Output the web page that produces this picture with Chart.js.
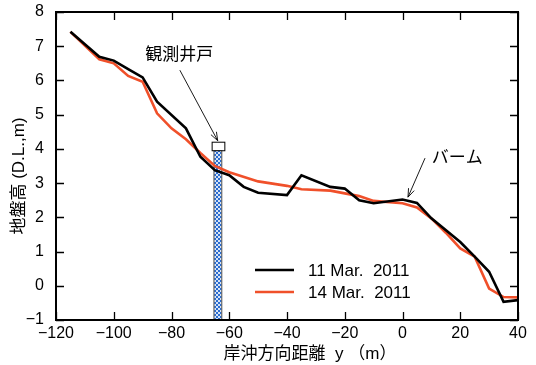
<!DOCTYPE html>
<html>
<head>
<meta charset="utf-8">
<script src="https://cdn.jsdelivr.net/npm/chart.js@4.4.0/dist/chart.umd.min.js"></script>
<style>
  body { margin: 0; background: #fff; }
  #wrap { width: 536px; height: 365px; }
</style>
</head>
<body>
<div id="wrap"><canvas id="myChart" width="536" height="365"></canvas></div>
<script>
// 11 Mar. 2011 profile
var marX11 = [-115, -105, -100, -95, -90, -85, -75, -70, -65, -60, -55, -50, -40, -35, -25, -20, -15, -10, 0, 5, 10, 20, 25, 30, 35, 40];
var marY11 = [7.42, 6.69, 6.58, 6.33, 6.09, 5.38, 4.60, 3.77, 3.38, 3.23, 2.89, 2.72, 2.65, 3.23, 2.89, 2.84, 2.50, 2.41, 2.52, 2.42, 1.97, 1.28, 0.85, 0.41, -0.47, -0.42];
// 14 Mar. 2011 profile
var marX14 = [-115, -105, -100, -95, -90, -85, -80, -75, -70, -65, -60, -50, -40, -35, -25, -15, -10, 0, 5, 10, 15, 20, 25, 30, 35, 40];
var marY14 = [7.42, 6.62, 6.50, 6.13, 5.96, 5.04, 4.60, 4.28, 3.88, 3.50, 3.32, 3.05, 2.92, 2.82, 2.78, 2.62, 2.48, 2.41, 2.29, 1.97, 1.55, 1.09, 0.85, -0.08, -0.33, -0.34];

var seriesLabels = ['11 Mar.  2011', '14 Mar.  2011'];
var seriesColors = ['#000000', '#f0502a'];

var xTicks = [-120, -100, -80, -60, -40, -20, 0, 20, 40];
var yTicks = [-1, 0, 1, 2, 3, 4, 5, 6, 7, 8];

// observation well (data units)
var wellX = [-65.3, -62.6];
var wellBoxX = [-66.1, -61.7];
var wellBoxY = [3.96, 4.21];

var FONT = "'Liberation Sans', 'Noto Sans CJK JP', sans-serif";

function pts(xs, ys) {
    return xs.map(function (x, i) { return { x: x, y: ys[i] }; });
}

function minus(v) { return String(v).replace('-', '\u2212'); }

function arrow(c, x1, y1, x2, y2) {
    var a = Math.atan2(y2 - y1, x2 - x1), h = 9;
    c.beginPath();
    c.moveTo(x1, y1); c.lineTo(x2, y2);
    c.moveTo(x2 - h * Math.cos(a - 0.35), y2 - h * Math.sin(a - 0.35));
    c.lineTo(x2, y2);
    c.lineTo(x2 - h * Math.cos(a + 0.35), y2 - h * Math.sin(a + 0.35));
    c.stroke();
}

var pattern = (function () {
    var t = document.createElement('canvas');
    t.width = 4; t.height = 4;
    var g = t.getContext('2d');
    g.fillStyle = '#d6e4f7'; g.fillRect(0, 0, 4, 4);
    g.fillStyle = '#2a6cd0';
    g.fillRect(0, 0, 2, 2); g.fillRect(2, 2, 2, 2);
    return g.createPattern(t, 'repeat');
})();

var wellPlugin = {
    id: 'well',
    beforeDatasetsDraw: function (chart) {
        var c = chart.ctx, xs = chart.scales.x, ys = chart.scales.y;
        var l = xs.getPixelForValue(wellX[0]), r = xs.getPixelForValue(wellX[1]);
        var top = ys.getPixelForValue(wellBoxY[0]), bot = ys.getPixelForValue(-1);
        c.save();
        c.fillStyle = pattern;
        c.fillRect(l, top, r - l, bot - top);
        c.strokeStyle = '#6b6b6b'; c.lineWidth = 1.2;
        c.strokeRect(l, top, r - l, bot - top);
        c.restore();
    },
    afterDatasetsDraw: function (chart) {
        var c = chart.ctx, xs = chart.scales.x, ys = chart.scales.y;
        var bl = xs.getPixelForValue(wellBoxX[0]), br = xs.getPixelForValue(wellBoxX[1]);
        var bt = ys.getPixelForValue(wellBoxY[1]), bb = ys.getPixelForValue(wellBoxY[0]);
        c.save();
        c.fillStyle = '#fff'; c.strokeStyle = '#000'; c.lineWidth = 1;
        c.fillRect(bl, bt, br - bl, bb - bt);
        c.strokeRect(bl + 0.5, bt + 0.5, br - bl, bb - bt);
        c.restore();
    }
};

var framePlugin = {
    id: 'frame',
    afterDraw: function (chart) {
        var c = chart.ctx, a = chart.chartArea, xs = chart.scales.x, ys = chart.scales.y;
        c.save();
        c.strokeStyle = '#000';
        c.lineWidth = 1.3;
        c.beginPath();
        xTicks.forEach(function (v) {
            var p = Math.round(xs.getPixelForValue(v)) + 0.5;
            c.moveTo(p, a.bottom); c.lineTo(p, a.bottom - 8);
            c.moveTo(p, a.top); c.lineTo(p, a.top + 8);
        });
        yTicks.forEach(function (v) {
            var p = Math.round(ys.getPixelForValue(v)) + 0.5;
            c.moveTo(a.left, p); c.lineTo(a.left + 8, p);
            c.moveTo(a.right, p); c.lineTo(a.right - 8, p);
        });
        c.stroke();
        c.lineWidth = 2;
        c.strokeRect(a.left, a.top, a.right - a.left, a.bottom - a.top);

        // legend
        c.font = '17px ' + FONT;
        c.textBaseline = 'middle';
        c.fillStyle = '#000';
        for (var i = 0; i < 2; i++) {
            var ly = a.top + 258 + i * 22;
            c.strokeStyle = seriesColors[i]; c.lineWidth = 2.6;
            c.beginPath(); c.moveTo(a.left + 199, ly); c.lineTo(a.left + 238, ly); c.stroke();
            c.fillText(seriesLabels[i], a.left + 252, ly + 1);
        }

        // annotations
        c.strokeStyle = '#000'; c.lineWidth = 0.9;
        arrow(c, xs.getPixelForValue(-77.1), ys.getPixelForValue(6.30),
                 xs.getPixelForValue(-64.0), ys.getPixelForValue(4.24));
        arrow(c, xs.getPixelForValue(7.8), ys.getPixelForValue(3.73),
                 xs.getPixelForValue(1.9), ys.getPixelForValue(2.59));
        c.font = '17px ' + FONT;
        c.textAlign = 'center';
        c.fillText('観測井戸', xs.getPixelForValue(-77.3), ys.getPixelForValue(6.74));
        c.textAlign = 'left';
        c.fillText('バーム', xs.getPixelForValue(10.1), ys.getPixelForValue(3.73));

        // axis titles
        c.textAlign = 'center';
        c.fillText('岸沖方向距離  y （m）', 310, 354);
        c.translate(19, 176);
        c.rotate(-Math.PI / 2);
        c.fillText('地盤高 (D.L.,m)', 0, 0);
        c.restore();
    }
};

var ctx = document.getElementById('myChart').getContext('2d');

var graphData = {
    type: 'line',
    data: {
        datasets: [{
            label: seriesLabels[0],
            data: pts(marX11, marY11),
            borderColor: seriesColors[0],
            borderWidth: 2.6,
            pointRadius: 0,
            tension: 0
        }, {
            label: seriesLabels[1],
            data: pts(marX14, marY14),
            borderColor: seriesColors[1],
            borderWidth: 2.6,
            pointRadius: 0,
            tension: 0
        }]
    },
    options: {
        responsive: false,
        animation: false,
        layout: { padding: { left: 0, right: 18, top: 12, bottom: 0 } },
        plugins: { legend: { display: false }, tooltip: { enabled: false } },
        scales: {
            x: {
                type: 'linear', min: -120, max: 40,
                afterBuildTicks: function (s) { s.ticks = xTicks.map(function (v) { return { value: v }; }); },
                afterFit: function (s) { s.height = 45; s.paddingLeft = 0; s.paddingRight = 0; },
                grid: { display: false, drawTicks: false },
                border: { display: false },
                ticks: { color: '#000', font: { size: 16, family: FONT }, padding: 4, maxRotation: 0,
                          callback: function (v) { return minus(v); } }
            },
            y: {
                type: 'linear', min: -1, max: 8,
                afterBuildTicks: function (s) { s.ticks = yTicks.map(function (v) { return { value: v }; }); },
                afterFit: function (s) { s.width = 56; s.paddingTop = 0; s.paddingBottom = 0; },
                grid: { display: false, drawTicks: false },
                border: { display: false },
                ticks: { color: '#000', font: { size: 16, family: FONT }, padding: 12,
                          callback: function (v) { return minus(v); } }
            }
        }
    },
    plugins: [wellPlugin, framePlugin]
};

var myChart = new Chart(ctx, graphData);
</script>
</body>
</html>
